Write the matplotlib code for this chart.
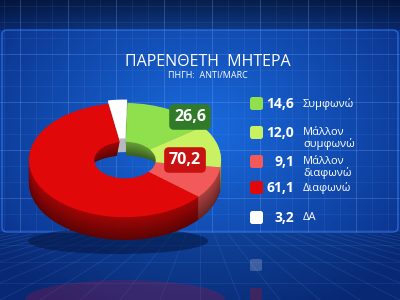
import numpy as np
import matplotlib.pyplot as plt
from matplotlib.patches import FancyBboxPatch, Ellipse
import matplotlib.colors as mcolors

plt.rcParams['font.family'] = ['Open Sans', 'DejaVu Sans']

# data
title = 'ΠΑΡΕΝΘΕΤΗ  ΜΗΤΕΡΑ'
source = 'ΠΗΓΗ:  ANTI/MARC'
labels = ['Συμφωνώ', 'Μάλλον\nσυμφωνώ', 'Μάλλον\nδιαφωνώ', 'Διαφωνώ', 'ΔΑ']
values = [14.6, 12.0, 9.1, 61.1, 3.2]
colors = ['#8fe04c', '#c8f262', '#f25a5a', '#e00808', '#ffffff']
agree_total = values[0] + values[1]
disagree_total = values[2] + values[3]

fig = plt.figure(figsize=(4, 3), dpi=100)

# background in pixel coordinates
bg = fig.add_axes([0, 0, 1, 1])
bg.set_xlim(0, 400); bg.set_ylim(300, 0); bg.axis('off')
yy, xx = np.mgrid[0:300, 0:400]
r = np.sqrt(((xx - 200) / 260.0) ** 2 + ((yy - 130) / 200.0) ** 2)
r = np.clip(r, 0, 1)
c0 = np.array(mcolors.to_rgb('#1a6ce0'))
c1 = np.array(mcolors.to_rgb('#0a3088'))
img = c0[None, None, :] * (1 - r[..., None]) + c1[None, None, :] * r[..., None]
img[:30] *= np.linspace(0.45, 0.75, 30)[:, None, None]
img[232:] *= 0.85
bg.imshow(img, extent=[0, 400, 300, 0], aspect='auto', zorder=0)
for x in np.arange(4, 400, 16):
    bg.plot([x, x], [0, 232], color='#7fb0ff', lw=0.5, alpha=0.12, zorder=1)
for y in np.arange(6, 232, 16):
    bg.plot([0, 400], [y, y], color='#7fb0ff', lw=0.5, alpha=0.12, zorder=1)
for x in np.arange(20, 400, 48):
    bg.plot([x, x], [0, 232], color='#7fb0ff', lw=0.7, alpha=0.2, zorder=1)
for y in np.arange(54, 232, 48):
    bg.plot([0, 400], [y, y], color='#7fb0ff', lw=0.7, alpha=0.2, zorder=1)
# floor perspective lines
for x in np.arange(-400, 800, 40):
    bg.plot([200 + (x - 200) * 0.35, x], [234, 300], color='#6fa8ff', lw=0.6, alpha=0.15, zorder=1)
for y in [245, 262, 283]:
    bg.plot([0, 400], [y, y], color='#6fa8ff', lw=0.6, alpha=0.12, zorder=1)
panel = FancyBboxPatch((2, 30), 396, 202, boxstyle='round,pad=0,rounding_size=5',
                       fc='none', ec='#3d86ff', lw=1.0, alpha=0.6, zorder=2)
bg.add_patch(panel)
# shadow + reflections
bg.add_patch(Ellipse((118, 241), 180, 26, fc='#04143e', alpha=0.55, zorder=2))
bg.add_patch(Ellipse((125, 300), 200, 40, fc='#c0103a', alpha=0.25, zorder=2))
bg.add_patch(FancyBboxPatch((250, 259), 12, 12, boxstyle='round,pad=0,rounding_size=2',
                            fc='#ffffff', ec='none', alpha=0.2, zorder=2))
bg.add_patch(FancyBboxPatch((250, 288), 12, 12, boxstyle='round,pad=0,rounding_size=2',
                            fc='#e00808', ec='none', alpha=0.25, zorder=2))

# 3d donut
order = [4, 0, 1, 2, 3]
pv = [values[i] for i in order]
pc = [colors[i] for i in order]
expl = [0.06, 0, 0, 0, 0]
ax = fig.add_axes([27 / 400, (300 - 240) / 300, 196 / 400, 137 / 300])
depth = 0.4
hole = 0.32
for k in np.linspace(depth, 0.01, 24):
    f = 0.42 + 0.3 * (1 - k / depth)
    side = [tuple(np.array(mcolors.to_rgb(c)) * f) for c in pc]
    side[0] = (0.72, 0.72, 0.76)
    w = 1 - (hole + 0.4 * k)  # back wall of the hole shrinks with depth
    ax.pie(pv, colors=side, startangle=100, counterclock=False, center=(0, -k),
           explode=expl, wedgeprops=dict(width=w, lw=0))
ax.pie(pv, colors=pc, startangle=100, counterclock=False, center=(0, 0),
       explode=expl, wedgeprops=dict(width=1 - hole, lw=0))
ax.set_aspect('auto')
ax.set_xlim(-1.02, 1.02)
ax.set_ylim(-1.0 - depth, 1.0)
ax.axis('off')

# overlay for text
top = fig.add_axes([0, 0, 1, 1])
top.set_xlim(0, 400); top.set_ylim(300, 0); top.axis('off')
top.patch.set_alpha(0)

top.text(208, 62, title, color='white', fontsize=11.5, ha='center', va='center')
top.text(208, 75, source, color='white', fontsize=6.5, ha='center', va='center')

def fmt(v):
    return f'{v:.1f}'.replace('.', ',')

top.text(190, 117, fmt(agree_total), color='white', fontsize=11.5, fontweight='bold',
         ha='center', va='center',
         bbox=dict(boxstyle='round,pad=0.3,rounding_size=0.3', fc='#307a2a', ec='none'))
top.text(185, 160, fmt(disagree_total), color='white', fontsize=11.5, fontweight='bold',
         ha='center', va='center',
         bbox=dict(boxstyle='round,pad=0.3,rounding_size=0.3', fc='#c81212', ec='none'))

# legend
rows_y = [104, 133, 162, 188, 218]
for lab, v, c, y in zip(labels, values, colors, rows_y):
    top.add_patch(FancyBboxPatch((250, y - 7), 13, 13, boxstyle='round,pad=0,rounding_size=2.5',
                                 fc=c, ec='none'))
    top.text(294, y, fmt(v), color='white', fontsize=10, fontweight='bold',
             ha='right', va='center')
    if '\n' in lab:
        top.text(303, y - 6, lab, color='white', fontsize=8, ha='left', va='top',
                 linespacing=0.95)
    else:
        top.text(303, y, lab, color='white', fontsize=8, ha='left', va='center')

fig.savefig('out.png', dpi=100)
